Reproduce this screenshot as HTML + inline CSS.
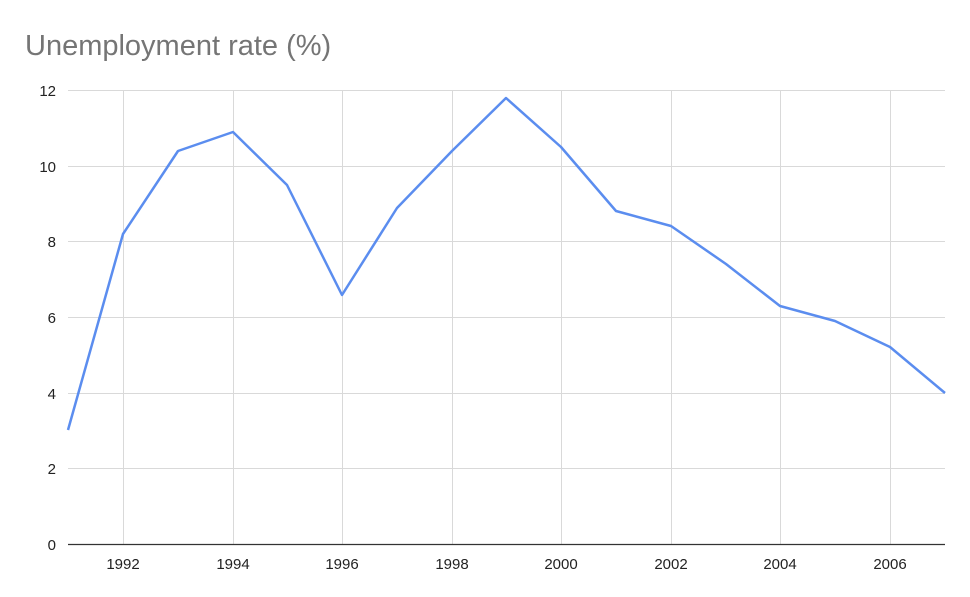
<!DOCTYPE html>
<html><head><style>
body{margin:0;background:#fff;}
svg{display:block;font-family:"Liberation Sans",Arial,sans-serif;}
</style></head><body>
<svg width="970" height="597" viewBox="0 0 970 597">
<rect width="970" height="597" fill="#fff"/>
<text x="25" y="55" font-size="29" fill="#757575">Unemployment rate (%)</text>
<g stroke="#d9d9d9" stroke-width="1">
<line x1="68" y1="90.5" x2="945" y2="90.5"/>
<line x1="68" y1="166.5" x2="945" y2="166.5"/>
<line x1="68" y1="241.5" x2="945" y2="241.5"/>
<line x1="68" y1="317.5" x2="945" y2="317.5"/>
<line x1="68" y1="393.5" x2="945" y2="393.5"/>
<line x1="68" y1="468.5" x2="945" y2="468.5"/>
<line x1="123.5" y1="90" x2="123.5" y2="544"/>
<line x1="233.5" y1="90" x2="233.5" y2="544"/>
<line x1="342.5" y1="90" x2="342.5" y2="544"/>
<line x1="452.5" y1="90" x2="452.5" y2="544"/>
<line x1="561.5" y1="90" x2="561.5" y2="544"/>
<line x1="671.5" y1="90" x2="671.5" y2="544"/>
<line x1="780.5" y1="90" x2="780.5" y2="544"/>
<line x1="890.5" y1="90" x2="890.5" y2="544"/>
</g>
<line x1="68" y1="544.5" x2="945" y2="544.5" stroke="#333" stroke-width="1.2"/>
<g font-size="15" fill="#222" text-anchor="end">
<text x="56" y="96">12</text>
<text x="56" y="172">10</text>
<text x="56" y="247">8</text>
<text x="56" y="323">6</text>
<text x="56" y="399">4</text>
<text x="56" y="474">2</text>
<text x="56" y="550">0</text>
</g>
<g font-size="15" fill="#222" text-anchor="middle">
<text x="123" y="569">1992</text>
<text x="233" y="569">1994</text>
<text x="342" y="569">1996</text>
<text x="452" y="569">1998</text>
<text x="561" y="569">2000</text>
<text x="671" y="569">2002</text>
<text x="780" y="569">2004</text>
<text x="890" y="569">2006</text>
</g>
<polyline fill="none" stroke="#5b8def" stroke-width="2.5" stroke-linejoin="round"
points="68,430 123,234 178,151 233,132 287,185 342,295 397,208 452,151 506,98 561,147 616,211 671,226 726,264 780,306 835,321 890,347 945,393"/>
</svg>
</body></html>
